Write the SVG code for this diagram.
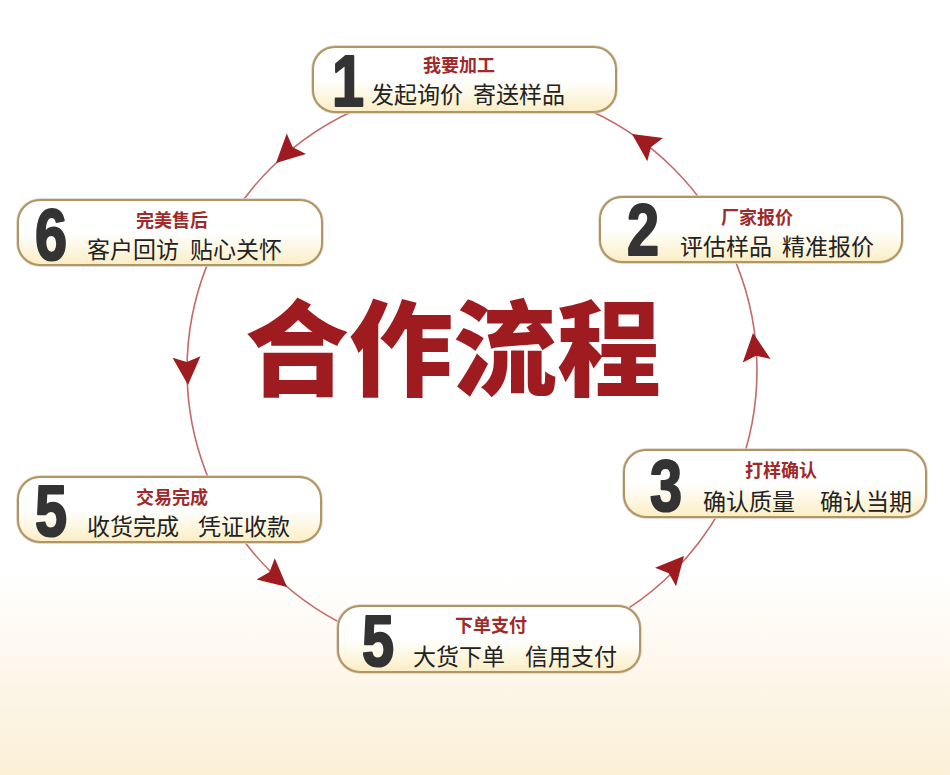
<svg xmlns="http://www.w3.org/2000/svg" width="950" height="775" viewBox="0 0 950 775">
<defs>
<linearGradient id="bg" x1="0" y1="0" x2="0" y2="1">
<stop offset="0" stop-color="#ffffff"/>
<stop offset="0.74" stop-color="#ffffff"/>
<stop offset="1" stop-color="#fbefd6"/>
</linearGradient>
<linearGradient id="box" x1="0" y1="0" x2="0" y2="1">
<stop offset="0" stop-color="#ffffff"/>
<stop offset="0.5" stop-color="#ffffff"/>
<stop offset="1" stop-color="#fbeec4"/>
</linearGradient>
<path id="ah" d="M0,0 L-28,-14 L-23,0 L-28,14 Z"/>
</defs>
<style>
.bx{fill:url(#box);stroke:#b39463;stroke-width:2}
.bxs{fill:none;stroke:#d8d2c8;stroke-width:1.5}
.num{font-family:"Liberation Sans",Arial,sans-serif;font-weight:bold;font-size:72px;fill:#333333;stroke:#333333;stroke-width:2.2;stroke-linejoin:round}
.ttl{font-family:"Noto Sans CJK SC",sans-serif;font-weight:bold;font-size:18px;fill:#9e2a2b;text-anchor:middle}
.sub{font-family:"Noto Sans CJK SC",sans-serif;font-size:23px;fill:#222222}
.big{font-family:"Noto Sans CJK SC",serif;font-weight:900;font-size:104px;fill:#9e1b1f;text-anchor:middle}
.arr{fill:#9e1b1f}
</style>
<rect x="0" y="0" width="950" height="775" fill="url(#bg)"/>
<g id="connectors">
<circle cx="472" cy="370" r="285" fill="none" stroke="#c46a6a" stroke-width="1.6"/>
<use href="#ah" class="arr" transform="translate(276,163) rotate(136.6)"/>
<use href="#ah" class="arr" transform="translate(632,134) rotate(-145.9)"/>
<use href="#ah" class="arr" transform="translate(188,385) rotate(87)"/>
<use href="#ah" class="arr" transform="translate(287,587) rotate(40.5)"/>
<use href="#ah" class="arr" transform="translate(684,556) rotate(-48.7)"/>
<use href="#ah" class="arr" transform="translate(753,333) rotate(-97.5)"/>
</g>
<g id="title">
<text class="big" x="453" y="388">合作流程</text>
</g>
<g id="node1">
<rect class="bxs" x="312" y="46" width="305" height="67" rx="23"/>
<rect class="bx" x="313" y="47" width="303" height="65" rx="22"/>
<text class="num" transform="translate(332,106) scale(0.8,1)">1</text>
<text class="ttl" x="459" y="72">我要加工</text>
<text class="sub" x="371" y="103">发起询价</text>
<text class="sub" x="473" y="103">寄送样品</text>
</g>
<g id="node2">
<rect class="bxs" x="599" y="196" width="304" height="67" rx="23"/>
<rect class="bx" x="600" y="197" width="302" height="65" rx="22"/>
<text class="num" transform="translate(627,255) scale(0.8,1)">2</text>
<text class="ttl" x="757" y="224">厂家报价</text>
<text class="sub" x="680" y="255">评估样品</text>
<text class="sub" x="782" y="255">精准报价</text>
</g>
<g id="node3">
<rect class="bxs" x="623" y="449" width="304" height="69" rx="23"/>
<rect class="bx" x="624" y="450" width="302" height="67" rx="22"/>
<text class="num" transform="translate(650,511) scale(0.8,1)">3</text>
<text class="ttl" x="781" y="477">打样确认</text>
<text class="sub" x="703" y="510">确认质量</text>
<text class="sub" x="820" y="510">确认当期</text>
</g>
<g id="node6">
<rect class="bxs" x="17" y="199" width="306" height="67" rx="23"/>
<rect class="bx" x="18" y="200" width="304" height="65" rx="22"/>
<text class="num" transform="translate(35,260) scale(0.8,1)">6</text>
<text class="ttl" x="172" y="227">完美售后</text>
<text class="sub" x="87" y="258">客户回访</text>
<text class="sub" x="190" y="258">贴心关怀</text>
</g>
<g id="node5a">
<rect class="bxs" x="17" y="476" width="305" height="67" rx="23"/>
<rect class="bx" x="18" y="477" width="303" height="65" rx="22"/>
<text class="num" transform="translate(35,536) scale(0.8,1)">5</text>
<text class="ttl" x="172" y="504">交易完成</text>
<text class="sub" x="87" y="535">收货完成</text>
<text class="sub" x="198" y="535">凭证收款</text>
</g>
<g id="node5b">
<rect class="bxs" x="337" y="605" width="304" height="68" rx="23"/>
<rect class="bx" x="338" y="606" width="302" height="66" rx="22"/>
<text class="num" transform="translate(362,666) scale(0.8,1)">5</text>
<text class="ttl" x="491" y="632">下单支付</text>
<text class="sub" x="413" y="665">大货下单</text>
<text class="sub" x="525" y="665">信用支付</text>
</g>
</svg>
